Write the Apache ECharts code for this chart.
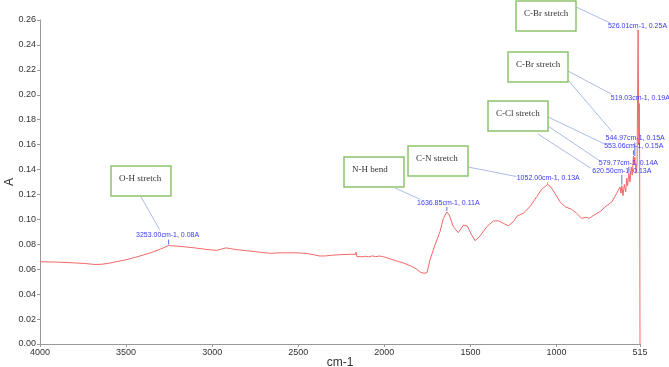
<!DOCTYPE html>
<html>
<head>
<meta charset="utf-8">
<script src="https://cdn.jsdelivr.net/npm/echarts@6.0.0/dist/echarts.min.js"></script>
<style>
  html, body { margin: 0; padding: 0; background: #ffffff; }
  #chart { width: 669px; height: 367px; }
</style>
</head>
<body>
<div id="chart"></div>
<script>
// spectrum
const wavenumber = [
  4000, 3900, 3800, 3740, 3680, 3640, 3600, 3550, 3500, 3450, 3400, 3350, 3300, 3253,
  3210, 3160, 3100, 3050, 3000, 2970, 2945, 2920, 2895, 2860, 2800, 2750, 2700, 2660,
  2620, 2560, 2500, 2450, 2410, 2375, 2340, 2300, 2250, 2200, 2168, 2164, 2160, 2130,
  2110, 2090, 2070, 2050, 2030, 2010, 1990, 1960, 1920, 1880, 1840, 1810, 1790, 1770,
  1752, 1735, 1706, 1677, 1657, 1636.85, 1623, 1599, 1570, 1541, 1518, 1493, 1473, 1444,
  1405, 1367, 1338, 1309, 1280, 1251, 1228, 1193, 1154, 1115, 1086, 1052, 1034, 1009,
  980, 951, 912, 883, 854, 829, 810, 776, 747, 718, 679, 650, 631, 625, 620.5, 614,
  606, 598, 592, 587, 579.77, 573, 566, 560, 553.06, 549, 544.97, 538, 532, 526.01,
  522, 519.03, 517, 515
]
const absorbance = [
  0.0660, 0.0657, 0.0651, 0.0646, 0.0638, 0.0640, 0.0648, 0.0662, 0.0676, 0.0694, 0.0714, 0.0736, 0.0762, 0.0790,
  0.0786, 0.0780, 0.0771, 0.0762, 0.0754, 0.0752, 0.0762, 0.0771, 0.0766, 0.0757, 0.0749, 0.0741, 0.0733, 0.0728,
  0.0731, 0.0732, 0.0731, 0.0726, 0.0716, 0.0706, 0.0707, 0.0713, 0.0717, 0.0720, 0.0719, 0.0738, 0.0702, 0.0700,
  0.0704, 0.0699, 0.0707, 0.0701, 0.0706, 0.0702, 0.0694, 0.0680, 0.0663, 0.0645, 0.0622, 0.0598, 0.0575, 0.0568,
  0.0572, 0.0674, 0.0794, 0.0901, 0.1008, 0.1060, 0.1035, 0.0941, 0.0893, 0.0955, 0.0947, 0.0875, 0.0829, 0.0867,
  0.0941, 0.0987, 0.0989, 0.0968, 0.0949, 0.0981, 0.1027, 0.1049, 0.1102, 0.1182, 0.1241, 0.1280, 0.1262, 0.1209,
  0.1142, 0.1102, 0.1081, 0.1049, 0.1008, 0.1017, 0.1008, 0.1040, 0.1062, 0.1100, 0.1140, 0.1210, 0.1260, 0.1210, 0.1270, 0.1190,
  0.1280, 0.1220, 0.1330, 0.1270, 0.1370, 0.1300, 0.1420, 0.1356, 0.1510, 0.1440, 0.1500, 0.1370, 0.1440, 0.2520,
  0.1600, 0.1930, 0.1480, 0.0000
]

// labelled peaks
const peakWn = [3253.00, 1636.85, 1052.00, 620.50, 579.77, 553.06, 544.97, 519.03, 526.01]
const peakA = [0.079, 0.106, 0.128, 0.127, 0.137, 0.151, 0.150, 0.193, 0.252]

// band names and the peaks each one points at
const bands = ['O-H stretch', 'N-H bend', 'C-N stretch', 'C-Cl stretch', 'C-Br stretch', 'C-Br stretch']
const bandPeaks = [[0], [1], [2], [5, 4, 3], [7, 6], [8]]

const xTicks = [4000, 3500, 3000, 2500, 2000, 1500, 1000, 515]

// layout of the annotations (pixels)
const labelShift = [[-1, 10], [1.5, 9], [0.7, 6], [0, 15], [-0.4, 10.6], [0.3, 9.5], [0.3, 18.7], [1, 5], [-0.6, 4]]
const boxPos = [[111, 166], [344, 157], [408, 146], [488, 101], [508, 52], [516, 1]]
const linkFrom = [[[30, 31]], [[51, 31]], [[60, 21]], [[60, 16], [60, 25], [50, 33]], [[60, 19], [60, 28]], [[60, 6]]]
const linkTo = [[[-8, -6]], [[-28, -3.5]], [[-32, -2]], [[-29, -2.3], [-29, -2], [-31, -2.4]], [[-29, -4.4], [-23, -6.6]], [[-27.5, -3]]]

const sans = '"Liberation Sans", Arial, sans-serif'
const serif = '"Liberation Serif", "Times New Roman", serif'

const chart = echarts.init(document.getElementById('chart'))

chart.setOption({
  animation: false,
  textStyle: { fontFamily: sans },
  grid: { left: 40, right: 29, top: 20, bottom: 23, containLabel: false, outerBoundsMode: 'none' },
  xAxis: {
    type: 'value',
    inverse: true,
    min: 515,
    max: 4000,
    name: 'cm-1',
    nameLocation: 'middle',
    nameGap: 13,
    nameMoveOverlap: false,
    nameTextStyle: { fontSize: 12, color: '#333', fontFamily: sans },
    axisLine: { show: true, lineStyle: { color: '#999', width: 1 } },
    axisTick: { show: true, length: 3, customValues: xTicks, lineStyle: { color: '#999' } },
    axisLabel: {
      customValues: xTicks,
      fontSize: 9,
      color: '#333',
      margin: 4,
      fontFamily: sans,
      formatter: (v) => String(v),
    },
    splitLine: { show: false },
  },
  yAxis: {
    type: 'value',
    min: 0,
    max: 0.26,
    interval: 0.02,
    name: 'A',
    nameLocation: 'middle',
    nameGap: 24,
    nameMoveOverlap: false,
    nameTextStyle: { fontSize: 12, color: '#333', fontFamily: sans },
    axisLine: { show: true, lineStyle: { color: '#999', width: 1 } },
    axisTick: { show: true, length: 3, lineStyle: { color: '#999' } },
    axisLabel: {
      fontSize: 9,
      color: '#333',
      margin: 4,
      fontFamily: sans,
      formatter: (v) => v.toFixed(2),
    },
    splitLine: { show: false },
  },
  series: [
    {
      type: 'line',
      showSymbol: false,
      data: wavenumber.map((w, i) => [w, absorbance[i]]),
      lineStyle: { color: '#f36868', width: 1 },
    },
  ],
})

// annotations, placed through the axes
const labelFont = '7px ' + sans
const graphics = []
const labelCenter = []

peakWn.forEach((w, i) => {
  const p = chart.convertToPixel({ gridIndex: 0 }, [w, peakA[i]])
  const cx = p[0] + labelShift[i][0]
  const cy = p[1] - labelShift[i][1]
  labelCenter.push([cx, cy])
  const txt = w.toFixed(2) + 'cm-1, ' + peakA[i].toFixed(2) + 'A'
  if (p[1] - 1 > cy + 4) {
    graphics.push({
      type: 'line',
      z: 10,
      shape: { x1: p[0], y1: cy + 4, x2: p[0], y2: p[1] - 1 },
      style: { stroke: '#5b6ee6', lineWidth: 1 },
    })
  }
  graphics.push({
    type: 'text',
    z: 12,
    style: {
      text: txt,
      x: cx,
      y: cy,
      align: 'center',
      verticalAlign: 'middle',
      font: labelFont,
      fill: '#3a3af2',
    },
  })
})

bands.forEach((name, b) => {
  const [bx, by] = boxPos[b]
  bandPeaks[b].forEach((pk, k) => {
    const from = linkFrom[b][k]
    const to = linkTo[b][k]
    graphics.push({
      type: 'line',
      z: 8,
      shape: {
        x1: bx + from[0],
        y1: by + from[1],
        x2: labelCenter[pk][0] + to[0],
        y2: labelCenter[pk][1] + to[1],
      },
      style: { stroke: '#a9bbe8', lineWidth: 1 },
    })
  })
  graphics.push({
    type: 'rect',
    z: 9,
    shape: { x: bx, y: by, width: 60, height: 30 },
    style: { fill: '#ffffff', stroke: '#8dc46e', lineWidth: 1.5 },
  })
  graphics.push({
    type: 'text',
    z: 10,
    style: {
      text: name,
      x: bx + 8,
      y: by + 13,
      align: 'left',
      verticalAlign: 'middle',
      font: '9px ' + serif,
      fill: '#333',
    },
  })
})

chart.setOption({ graphic: graphics })
</script>
</body>
</html>
